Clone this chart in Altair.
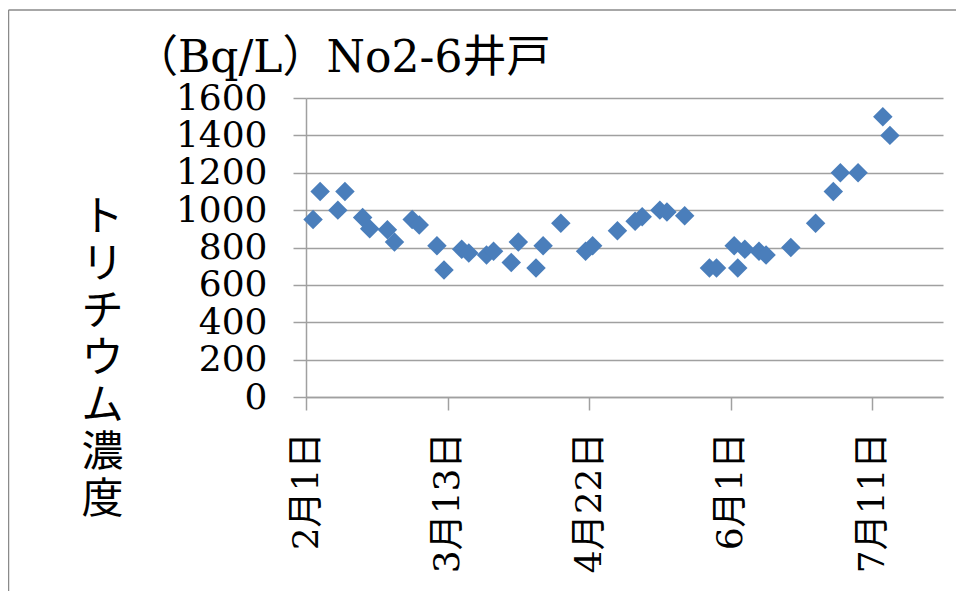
import altair as alt
import pandas as pd

# sampling dates (2013) and tritium concentration (Bq/L)
dates = [
    "2013-02-03", "2013-02-05", "2013-02-10", "2013-02-12", "2013-02-17",
    "2013-02-19", "2013-02-24", "2013-02-26", "2013-03-03", "2013-03-05",
    "2013-03-10", "2013-03-12", "2013-03-17", "2013-03-19", "2013-03-24",
    "2013-03-26", "2013-03-31", "2013-04-02", "2013-04-07", "2013-04-09",
    "2013-04-14", "2013-04-21", "2013-04-23", "2013-04-30", "2013-05-05",
    "2013-05-07", "2013-05-12", "2013-05-14", "2013-05-19", "2013-05-26",
    "2013-05-28", "2013-06-02", "2013-06-03", "2013-06-05", "2013-06-09",
    "2013-06-11", "2013-06-18", "2013-06-25", "2013-06-30", "2013-07-02",
    "2013-07-07", "2013-07-14", "2013-07-16",
]
values = [
    950, 1100, 1000, 1100, 960,
    900, 895, 830, 950, 920,
    810, 680, 790, 770, 760,
    780, 720, 830, 690, 810,
    930, 780, 810, 890, 940,
    965, 1000, 990, 970, 690,
    690, 810, 690, 790, 780,
    760, 800, 930, 1100, 1200,
    1200, 1500, 1400,
]
y_ticks = [0, 200, 400, 600, 800, 1000, 1200, 1400, 1600]
x_tick_dates = [(2013, 2, 1), (2013, 3, 13), (2013, 4, 22), (2013, 6, 1), (2013, 7, 11)]
title_text = "（Bq/L）No2-6井戸"
y_title = list("トリチウム濃度")

df = pd.DataFrame({"date": dates, "value": values})

LATIN = "DejaVu Serif, Noto Sans CJK JP"
GRID = "#a0a0a0"

x_enc = alt.X(
    "date:T",
    scale=alt.Scale(
        type="utc",
        domain=[alt.DateTime(year=2013, month=2, date=1, utc=True),
                alt.DateTime(year=2013, month=7, date=31, utc=True)],
    ),
    axis=alt.Axis(
        values=[alt.DateTime(year=y, month=m, date=d, utc=True) for (y, m, d) in x_tick_dates],
        labelExpr="(utcmonth(datum.value) + 1) + '月' + utcdate(datum.value) + '日'",
        labelAngle=270,
        labelAlign="right",
        labelBaseline="middle",
        labelFont=LATIN,
        labelFontSize=36,
        labelColor="black",
        labelPadding=22,
        tickSize=13,
        tickColor=GRID,
        tickWidth=1.5,
        domainColor=GRID,
        domainWidth=1.5,
        grid=False,
        title=None,
    ),
)

y_enc = alt.Y(
    "value:Q",
    scale=alt.Scale(domain=[0, 1600], nice=False, zero=True),
    axis=alt.Axis(
        values=y_ticks,
        format="d",
        labelFont=LATIN,
        labelFontSize=36,
        labelColor="black",
        labelPadding=26,
        tickSize=13,
        tickColor=GRID,
        tickWidth=1.5,
        domainColor=GRID,
        domainWidth=1.5,
        grid=True,
        gridColor=GRID,
        gridWidth=1.5,
        title=y_title,
        titleFont="Noto Sans CJK JP",
        titleFontSize=42,
        titleFontWeight="normal",
        titleLineHeight=47,
        titleAngle=0,
        titleAlign="center",
        titleBaseline="middle",
        titleX=-204,
        titleY=119,
        titleColor="black",
    ),
)

points = alt.Chart(df).mark_point(
    shape="diamond", filled=True, size=380, opacity=1, color="#4A7EBB"
).encode(x=x_enc, y=y_enc)

one = alt.Data(values=[{"k": 1}])

title_mark = alt.Chart(one).mark_text(
    text=title_text, align="left", baseline="alphabetic",
    font=LATIN, fontSize=44, color="black",
).encode(x=alt.value(-172), y=alt.value(-26))

frame_left = alt.Chart(one).mark_rule(color="#8a8a8a", strokeWidth=1.5).encode(
    x=alt.value(-297.5), y=alt.value(-88), y2=alt.value(520)
)
frame_top = alt.Chart(one).mark_rule(color="#8a8a8a", strokeWidth=1.5).encode(
    x=alt.value(-297.5), x2=alt.value(700), y=alt.value(-88)
)

chart = alt.layer(frame_left, frame_top, points, title_mark).properties(
    width=637,
    height=299,
    autosize=alt.AutoSizeParams(type="none"),
    padding={"left": 298, "top": 90, "right": 13, "bottom": 194},
    background="white",
).configure_view(stroke=None)

chart.save("out.html", embed_options={"renderer": "svg", "actions": False})
